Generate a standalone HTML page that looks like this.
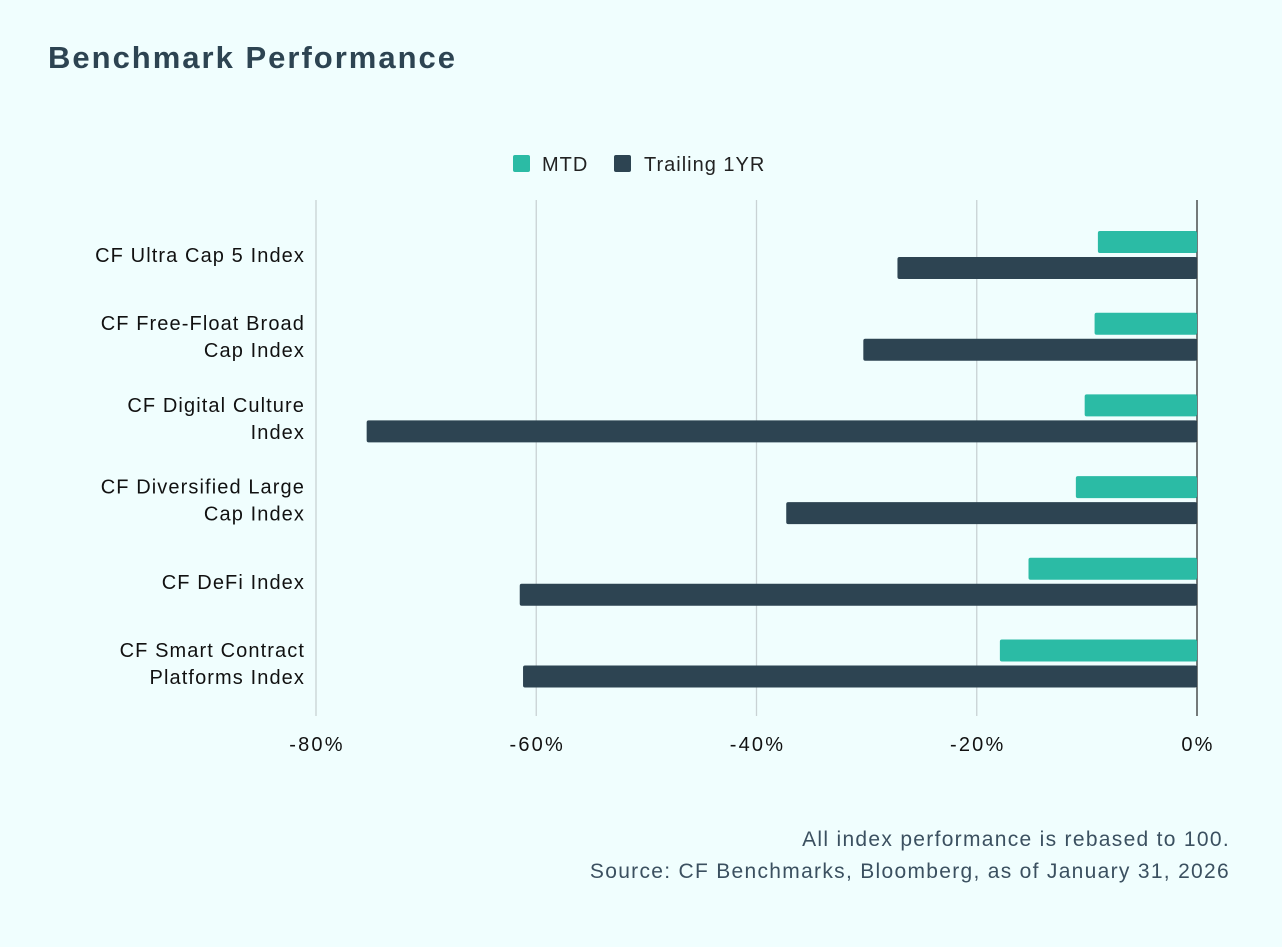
<!DOCTYPE html>
<html><head><meta charset="utf-8">
<style>
body{margin:0;background:#f0fefe;font-family:"Liberation Sans",sans-serif;}
#wrap{position:relative;width:1282px;height:947px;overflow:hidden;background:#f0fefe;}
</style></head>
<body>
<div id="wrap">
<svg id="svg" width="1282" height="947">
<text x="48" y="68" font-size="31" font-weight="bold" fill="#2d4452" letter-spacing="2">Benchmark Performance</text>
<g font-size="20" letter-spacing="1">
<rect x="513" y="155" width="17" height="17" rx="2" fill="#2bbba5"/>
<text x="542" y="171" fill="#222">MTD</text>
<rect x="614" y="155" width="17" height="17" rx="2" fill="#2d4452"/>
<text x="644" y="171" fill="#222">Trailing 1YR</text>
</g>
<g id="grid"></g><g id="bars"></g><g id="labels"></g><g id="ticks"></g>
<text x="1230" y="846" font-size="21" letter-spacing="1.3" fill="#3b5060" text-anchor="end">All index performance is rebased to 100.</text>
<text x="1230" y="878" font-size="21" letter-spacing="1.3" fill="#3b5060" text-anchor="end">Source: CF Benchmarks, Bloomberg, as of January 31, 2026</text>
</svg>
</div>
<script>
const categories=[["CF Ultra Cap 5 Index"],["CF Free-Float Broad","Cap Index"],["CF Digital Culture","Index"],["CF Diversified Large","Cap Index"],["CF DeFi Index"],["CF Smart Contract","Platforms Index"]];
const mtd=[-9.0,-9.3,-10.2,-11.0,-15.3,-17.9];
const trailing=[-27.2,-30.3,-75.4,-37.3,-61.5,-61.2];
const tickValues=[-80,-60,-40,-20,0];
const tickLabels=["-80%","-60%","-40%","-20%","0%"];
const NS="http://www.w3.org/2000/svg";
const x0=316,x1=1197,vmin=-80,vmax=0;
function X(v){return x0+(v-vmin)/(vmax-vmin)*(x1-x0);}
const top0=214,step=81.7;
function Yc(i){return top0+step*i+41;}
function mk(t,a,p){const e=document.createElementNS(NS,t);for(const k in a)e.setAttribute(k,a[k]);p.appendChild(e);return e;}
const grid=document.getElementById('grid'),bars=document.getElementById('bars'),labels=document.getElementById('labels'),ticks=document.getElementById('ticks');
tickValues.forEach((v,i)=>{
 const l=mk('line',{x1:X(v),x2:X(v),y1:200,y2:716,stroke:v===0?'#222':'#c9d2d4','stroke-width':v===0?1.2:1.3},grid);
 
 
 const t=mk('text',{x:X(v)+1,y:751,'font-size':20,'letter-spacing':2.2,fill:'#111','text-anchor':'middle'},ticks);
 t.textContent=tickLabels[i];
 
 
});
function bar(v,y,c){
 const xa=X(Math.min(v,0)),xb=X(Math.max(v,0));
 return mk('rect',{x:xa,y:y,width:xb-xa,height:22,rx:2,fill:c},bars);
}
categories.forEach((cat,i)=>{
 const c=Yc(i);
 const a=bar(mtd[i],c-24,'#2bbba5');
 
 
 const b=bar(trailing[i],c+2,'#2d4452');
 
 
 const t=mk('text',{x:305,'font-size':20,'letter-spacing':1.1,fill:'#111','text-anchor':'end'},labels);
 
 
 const n=cat.length;
 cat.forEach((s,j)=>{const ts=mk('tspan',{x:305,y:c+7+(j-(n-1)/2)*27},t);ts.textContent=s;});
});
</script>
</body></html>
